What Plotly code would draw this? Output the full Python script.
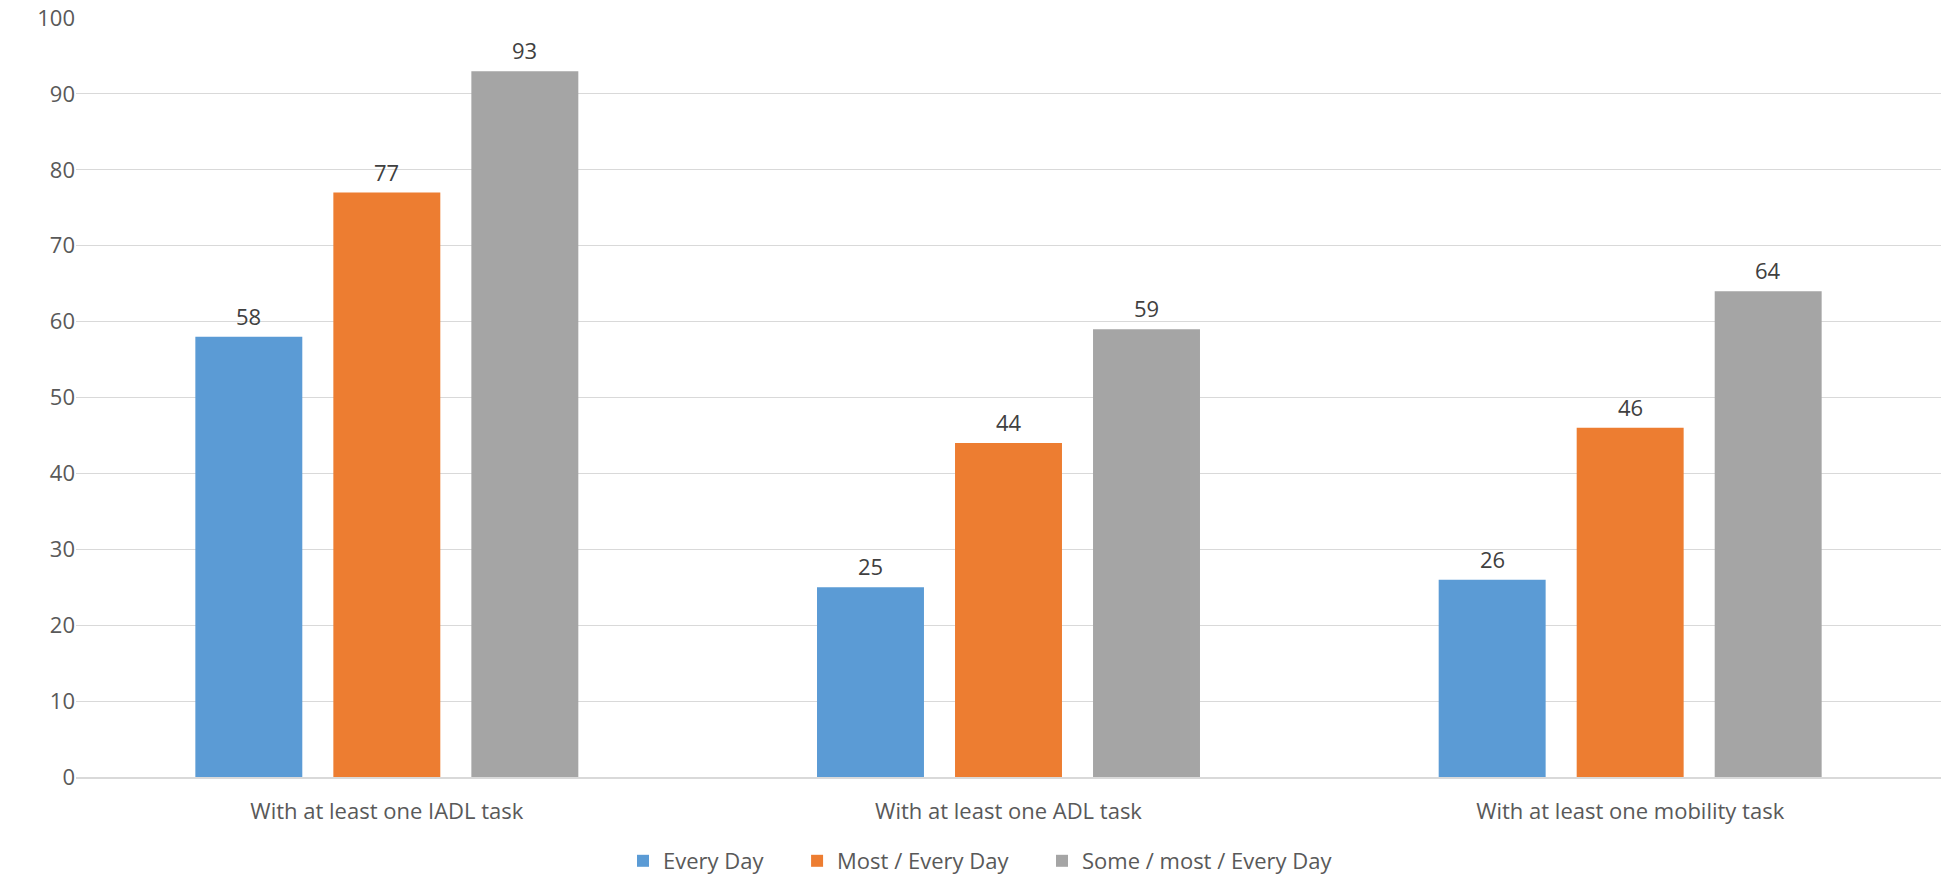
import plotly.graph_objects as go

categories = ["With at least one IADL task", "With at least one ADL task", "With at least one mobility task"]
series_names = ["Every Day", "Most / Every Day", "Some / most / Every Day"]
every_day = [58, 25, 26]
most_every_day = [77, 44, 46]
some_most_every_day = [93, 59, 64]
colors = ["#5B9BD5", "#ED7D31", "#A5A5A5"]
y_ticks = list(range(0, 101, 10))

FONT = "Open Sans"
W, H = 1953, 879
ML, MR, MT, MB = 76, 12, 18, 102
BARGAP, GROUPGAP = 0.334, 0.225
PAD = "\u00a0\u00a0\u00a0\u00a0\u00a0"  # extra spacing after legend entries

fig = go.Figure()
all_series = [every_day, most_every_day, some_most_every_day]
for k, (name, vals, c) in enumerate(zip(series_names, all_series, colors)):
    fig.add_trace(go.Bar(
        x=categories, y=vals, name=name + (PAD if k < len(series_names) - 1 else ""),
        marker=dict(color=c, line=dict(width=0)),
    ))

# data labels above each bar
cat_px = (W - ML - MR) / len(categories)
slot = cat_px * (1 - BARGAP) / len(all_series)
annotations = []
for i, vals in enumerate(all_series):
    off = (i - (len(all_series) - 1) / 2) * slot
    for cat, v in zip(categories, vals):
        annotations.append(dict(x=cat, y=v, xref="x", yref="y", text=str(v), showarrow=False,
                                xshift=off, yshift=4, yanchor="bottom", xanchor="center",
                                font=dict(family=FONT, size=22, color="#404040")))

fig.update_layout(
    width=W, height=H,
    margin=dict(l=ML, r=MR, t=MT, b=MB, autoexpand=False),
    paper_bgcolor="white", plot_bgcolor="white",
    barmode="group", bargap=BARGAP, bargroupgap=GROUPGAP,
    font=dict(family=FONT, size=22, color="#595959"),
    showlegend=True,
    annotations=annotations,
    legend=dict(orientation="h", xref="container", yref="container", x=0.5 + 4 / W, xanchor="center",
                y=1 - 861 / H, yanchor="middle",
                font=dict(family=FONT, size=22, color="#595959"), traceorder="normal",
                itemwidth=30),
    xaxis=dict(showgrid=False, showline=True, linecolor="#D9D9D9", linewidth=2,
               ticks="", automargin=False, ticklabelstandoff=14,
               tickfont=dict(family=FONT, size=22, color="#595959")),
    yaxis=dict(range=[0, 100], tickvals=y_ticks, showgrid=True, gridcolor="#D9D9D9",
               gridwidth=1, zeroline=False, showline=False, ticks="", automargin=False,
               ticklabeloverflow="allow",
               tickfont=dict(family=FONT, size=22, color="#595959")),
)
# remove the default page margin so the figure fills the window exactly
fig.write_html("out.html", config={"displayModeBar": False},
               post_script="document.body.style.margin='0';document.body.style.overflow='hidden';")
